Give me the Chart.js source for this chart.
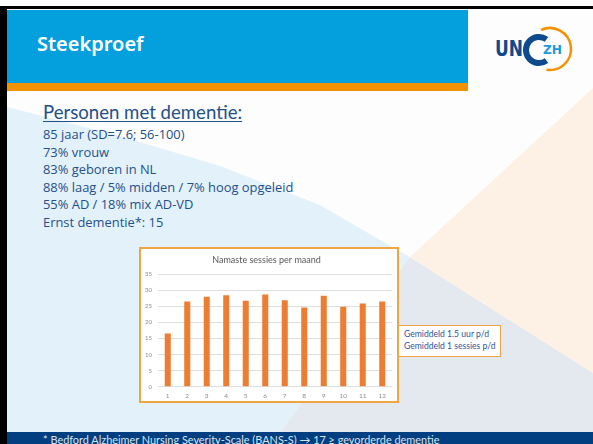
<!DOCTYPE html>
<html>
<head>
<meta charset="utf-8">
<script src="https://cdn.jsdelivr.net/npm/chart.js@4/dist/chart.umd.min.js"></script>
<style>
  html, body { margin: 0; padding: 0; }
  body { width: 593px; height: 444px; overflow: hidden; position: relative; background: #fff; font-family: Lato, "Open Sans", sans-serif; }
  #bg { position: absolute; left: 0; top: 0; }
  .slideTitle { position: absolute; left: 37px; top: 30px; color: #fff; font: 600 20px "Noto Sans", sans-serif; }
  .heading { position: absolute; left: 43px; top: 101px; color: #23508a; font-size: 18.6px; text-decoration: underline; text-decoration-thickness: 1px; text-underline-offset: 2px; }
  .facts { position: absolute; left: 43px; top: 126px; color: #23508a; font-family: "Open Sans", sans-serif; font-size: 12.9px; line-height: 17.6px; }
  #chartBox { position: absolute; left: 139px; top: 247px; width: 260px; height: 156px; box-sizing: border-box; border: 2px solid #f2a440; background: #fff; }
  #chartBox canvas { display: block; }
  .note { position: absolute; left: 398px; top: 325px; width: 103px; height: 32px; box-sizing: border-box; border: 1.5px solid #f2a440; background: #fff; color: #2f5597; font-size: 8.6px; line-height: 11.6px; padding: 3px 0 0 5px; }
  .footer { position: absolute; left: 43px; top: 433px; color: #dbe2ee; font-size: 10.9px; white-space: nowrap; }
</style>
</head>
<body>
<svg id="bg" width="593" height="444">
  <rect x="0" y="0" width="593" height="444" fill="#fdfdfd"/>
  <polygon points="7,107 120,136 220,166 320,205 380,240 410,257 280,432 7,432" fill="#e3f2fa"/>
  <polygon points="410,257 593,373 593,432 280,432" fill="#e4e9f0"/>
  <polygon points="410,257 593,88 593,373" fill="#fcf1e4"/>
  <rect x="7" y="10" width="461" height="73" fill="#049fdd"/>
  <rect x="7" y="83" width="461" height="8" fill="#f39200"/>
  <rect x="0" y="6" width="593" height="3" fill="#000"/>
  <rect x="0" y="6" width="7" height="438" fill="#000"/>
  <rect x="7" y="432" width="586" height="12" fill="#013f80"/>
  <!-- logo -->
  <text x="495" y="56" font-family="DejaVu Sans" font-weight="bold" font-size="20.5" fill="#0e4a8c" textLength="28" lengthAdjust="spacingAndGlyphs">UN</text>
  <path d="M 546.5 39.4 A 13 13 0 1 0 546.5 60.6" fill="none" stroke="#0e4a8c" stroke-width="6"/>
  <path d="M 541.1 30 A 21 21 0 1 1 546.4 69.7" fill="none" stroke="#f39200" stroke-width="2.5"/>
  <text x="552.5" y="54" text-anchor="middle" font-family="DejaVu Sans" font-weight="bold" font-size="11.5" fill="#1c9ad6" textLength="19" lengthAdjust="spacingAndGlyphs">ZH</text>
</svg>

<div class="slideTitle">Steekproef</div>
<div class="heading">Personen met dementie:</div>
<div class="facts">
  85 jaar (SD=7.6; 56-100)<br>
  73% vrouw<br>
  83% geboren in NL<br>
  88% laag / 5% midden / 7% hoog opgeleid<br>
  55% AD / 18% mix AD-VD<br>
  Ernst dementie*: 15
</div>

<div id="chartBox"><canvas id="sessionsChart" width="256" height="152"></canvas></div>

<div class="note">Gemiddeld 1.5 uur p/d<br>Gemiddeld 1 sessies p/d</div>

<div class="footer">* Bedford Alzheimer Nursing Severity-Scale (BANS-S) → 17 ≥ gevorderde dementie</div>

<script>
// data
const months = ['1', '2', '3', '4', '5', '6', '7', '8', '9', '10', '11', '12'];
const sessions = [16.6, 26.5, 28.0, 28.45, 26.8, 28.7, 26.9, 24.7, 28.35, 24.9, 25.9, 26.5];
const chartTitle = 'Namaste sessies per maand';
const yMax = 35;
const yStep = 5;

document.addEventListener('DOMContentLoaded', function () {
    const ctx = document.getElementById('sessionsChart').getContext('2d');
    const sessionsChart = new Chart(ctx, {
        type: 'bar',
        data: {
            labels: months,
            datasets: [{
                label: 'Sessies',
                data: sessions,
                backgroundColor: '#ed7d31',
                borderWidth: 0,
                barPercentage: 0.31,
                categoryPercentage: 1
            }]
        },
        options: {
            responsive: false,
            animation: false,
            layout: { padding: { left: 0, right: 5, top: 0, bottom: 0 } },
            plugins: {
                legend: { display: false },
                tooltip: { enabled: false },
                title: {
                    display: true,
                    text: chartTitle,
                    color: '#595959',
                    font: { family: 'Lato', size: 9, weight: 'normal' },
                    padding: { top: 5.6, bottom: 8.9 }
                }
            },
            scales: {
                x: {
                    grid: { display: false, drawTicks: false },
                    border: { display: false },
                    ticks: { color: '#8c8c8c', font: { family: 'Lato', size: 6.5 }, padding: 5 },
                    afterFit: function (scale) { scale.height = 14.3; }
                },
                y: {
                    min: 0,
                    max: yMax,
                    ticks: { stepSize: yStep, color: '#8c8c8c', font: { family: 'Lato', size: 6 }, padding: 6 },
                    grid: { color: '#dedede', drawTicks: false },
                    border: { display: false },
                    afterFit: function (scale) { scale.width = 17; }
                }
            }
        }
    });
});
</script>
</body>
</html>
